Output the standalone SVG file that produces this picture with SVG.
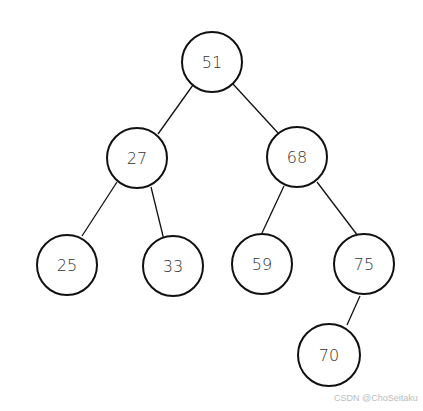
<svg xmlns="http://www.w3.org/2000/svg" width="423" height="411" viewBox="0 0 423 411">
<style>
.node circle{fill:#fff;stroke:#111;stroke-width:2}
.node text{font-family:"DejaVu Sans","Liberation Sans",sans-serif;font-size:16px;font-weight:200;fill:#333;text-anchor:middle;dominant-baseline:central}
.edges line{stroke:#111;stroke-width:1.3}
.wm{font-family:"Liberation Sans",sans-serif;font-size:9px;fill:#bbb}
</style>
<rect width="423" height="411" fill="#fff"/>
<g class="edges">
<line x1="193" y1="85" x2="158" y2="134"/>
<line x1="233" y1="84" x2="278" y2="133"/>
<line x1="117" y1="182" x2="82" y2="236"/>
<line x1="151" y1="187" x2="164" y2="240"/>
<line x1="284" y1="186" x2="262" y2="233"/>
<line x1="317" y1="182" x2="358" y2="236"/>
<line x1="360" y1="296" x2="347" y2="325"/>
</g>
<g id="n51" class="node"><circle cx="212" cy="62" r="30"/><text x="212" y="62">51</text></g>
<g id="n27" class="node"><circle cx="137" cy="158" r="30"/><text x="137" y="158">27</text></g>
<g id="n68" class="node"><circle cx="297" cy="157" r="30"/><text x="297" y="157">68</text></g>
<g id="n25" class="node"><circle cx="67" cy="265" r="30"/><text x="67" y="265">25</text></g>
<g id="n33" class="node"><circle cx="173" cy="266" r="30"/><text x="173" y="266">33</text></g>
<g id="n59" class="node"><circle cx="262" cy="264" r="30"/><text x="262" y="264">59</text></g>
<g id="n75" class="node"><circle cx="364" cy="264" r="30"/><text x="364" y="264">75</text></g>
<g id="n70" class="node"><circle cx="329" cy="355" r="31"/><text x="329" y="355">70</text></g>
<text class="wm" x="334" y="401">CSDN @ChoSeitaku</text>
</svg>
